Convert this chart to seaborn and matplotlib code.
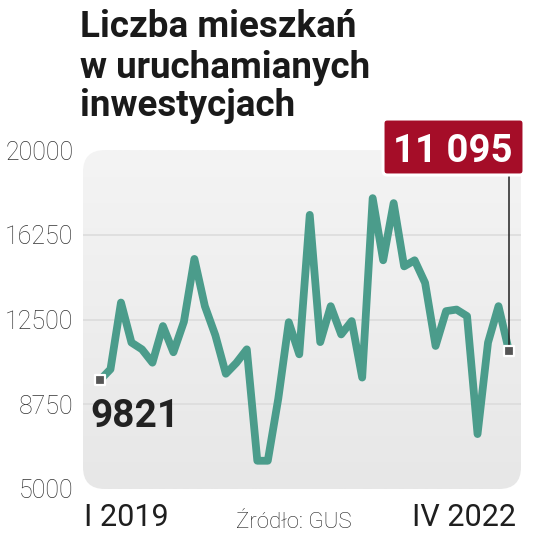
import matplotlib
matplotlib.use("Agg")
import matplotlib.pyplot as plt
from matplotlib.patches import FancyBboxPatch
from matplotlib.colors import LinearSegmentedColormap
import numpy as np
import pandas as pd
import seaborn as sns

# ---- data (monthly, I 2019 .. IV 2022) ----
values = [9821, 10300, 13250, 11480, 11180, 10590, 12210, 11050, 12400, 15180,
          13090, 11800, 10100, 10580, 11180, 6250, 6250, 9000, 12380, 10960,
          17130, 11500, 13090, 11840, 12430, 9930, 17870, 15120, 17650, 14850,
          15120, 14120, 11330, 12870, 12940, 12650, 7430, 11480, 13090, 11095]
months = list(range(len(values)))
yticks = [5000, 8750, 12500, 16250, 20000]
title_lines = ["Liczba mieszkań", "w uruchamianych", "inwestycjach"]
start_label = "I 2019"
end_label = "IV 2022"
source = "Źródło: GUS"

df = pd.DataFrame({"m": months, "v": values})

sns.set_theme(style="white")
plt.rcParams["font.family"] = ["Roboto", "DejaVu Sans"]

W, H = 536, 539
fig = plt.figure(figsize=(W / 100, H / 100), dpi=100)
fig.patch.set_facecolor("white")

def fx(px):
    return px / W

def fy(py):
    return 1 - py / H

ax_l, ax_r, ax_t, ax_b = 83, 521, 150, 489
ax = fig.add_axes([fx(ax_l), fy(ax_b), (ax_r - ax_l) / W, (ax_b - ax_t) / H])
ax.set_facecolor("none")

# rounded gradient background
box = FancyBboxPatch((0, 0), 1, 1, boxstyle="round,pad=0,rounding_size=0.05",
                     mutation_aspect=(ax_r - ax_l) / (ax_b - ax_t),
                     transform=ax.transAxes, facecolor="none", edgecolor="none")
ax.add_patch(box)
grad = np.linspace(0, 1, 256).reshape(-1, 1)
cmap = LinearSegmentedColormap.from_list("bg", ["#f4f4f4", "#e7e7e7"])
im = ax.imshow(grad, cmap=cmap, aspect="auto", extent=(0, 1, 0, 1),
               transform=ax.transAxes, zorder=0, origin="upper")
im.set_clip_path(box)

for yv in yticks[1:-1]:
    ax.axhline(yv, color="#dcdcdc", lw=1.2, zorder=1)

sns.lineplot(data=df, x="m", y="v", ax=ax, color="#4B9C8B", linewidth=5.6,
             solid_joinstyle="round", solid_capstyle="round", zorder=3)

ends = df.iloc[[0, -1]]
ax.scatter(ends["m"], ends["v"], marker="s", s=42, color="#555555",
           edgecolor="white", linewidth=1.6, zorder=5)

# axes limits
px_per = (509 - 100) / (len(values) - 1)
ax.set_xlim(-(100 - ax_l) / px_per, (len(values) - 1) + (ax_r - 509) / px_per)
ax.set_ylim(yticks[0], yticks[-1])
ax.set_yticks(yticks)
ax.set_yticklabels([str(t) for t in yticks], fontsize=18, color="#333333",
                   fontweight="light")
ax.tick_params(axis="y", length=0, pad=7)
ax.set_xticks([])
ax.set_xlabel("")
ax.set_ylabel("")
for s in ax.spines.values():
    s.set_visible(False)

# first value label
ax.annotate(f"{values[0]}", xy=(months[0], values[0]), xytext=(-10, -47),
            textcoords="offset pixels", ha="left", va="baseline",
            fontsize=28, fontweight="bold", color="#222222", zorder=6)

# last value label box
last_txt = f"{values[-1]:,}".replace(",", " ")
ax.annotate("", xy=(months[-1], values[-1]), xytext=(0, 177),
            textcoords="offset pixels",
            arrowprops=dict(arrowstyle="-", color="#222222", lw=1.1,
                            shrinkA=0, shrinkB=4), zorder=4)
rb = FancyBboxPatch((fx(383), fy(175)), (524 - 383) / W, (175 - 119) / H,
                    boxstyle="round,pad=0,rounding_size=0.008",
                    transform=fig.transFigure, facecolor="#A50D28",
                    edgecolor="white", linewidth=2.2, zorder=6)
fig.patches.append(rb)
fig.text(fx(452.5), fy(162), last_txt, ha="center", va="baseline", fontsize=27.5,
         fontweight="bold", color="white", zorder=7)

# title
for line, base in zip(title_lines, [37, 77.5, 116]):
    fig.text(fx(80), fy(base), line, ha="left", va="baseline", fontsize=26.5,
             fontweight="bold", color="#1a1a1a")

# bottom labels
fig.text(fx(84), fy(526), start_label, ha="left", va="baseline", fontsize=22,
         color="#1f1f1f")
fig.text(fx(516), fy(526), end_label, ha="right", va="baseline", fontsize=22,
         color="#1f1f1f")
fig.text(fx(294), fy(528), source, ha="center", va="baseline", fontsize=16,
         fontweight="light", color="#222222")

fig.savefig("out.png", dpi=100, facecolor="white")
